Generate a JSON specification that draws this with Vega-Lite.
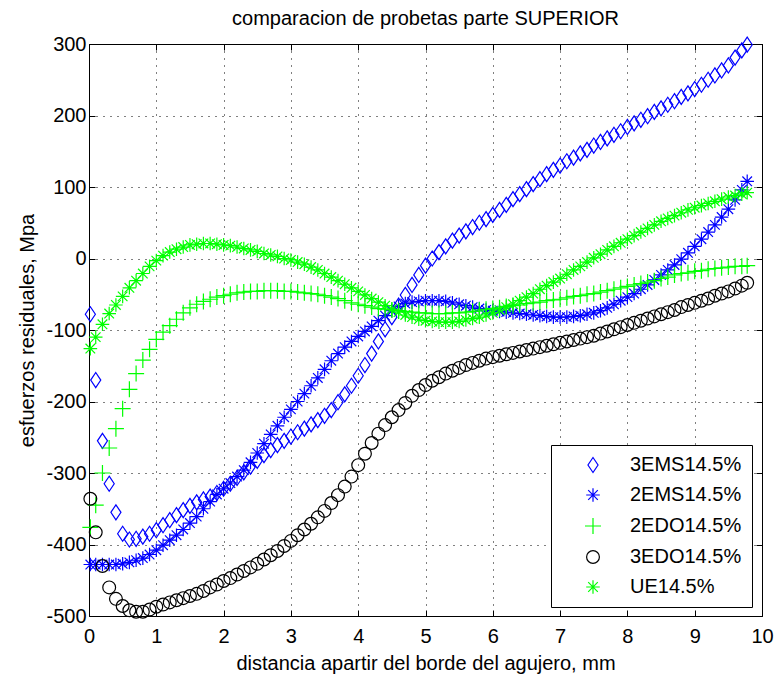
{
"$schema": "https://vega.github.io/schema/vega-lite/v6.json",
"width": 673, "height": 572,
"autosize": {"type": "none"},
"padding": {"left": 89, "top": 44, "right": 15, "bottom": 66},
"background": "white",
"title": {"text": "comparacion de probetas parte SUPERIOR", "fontSize": 20, "font": "Liberation Sans", "fontWeight": "normal", "color": "black", "offset": 5},
"config": {"view": {"stroke": "black", "strokeWidth": 1}, "font": "Liberation Sans"},
"datasets": {
"s1": [{"x":0.02,"y":-78},{"x":0.1,"y":-170},{"x":0.2,"y":-255},{"x":0.3,"y":-315},{"x":0.4,"y":-355},{"x":0.5,"y":-385},{"x":0.6,"y":-393},{"x":0.7,"y":-392},{"x":0.8,"y":-389},{"x":0.9,"y":-385},
{"x":1.0,"y":-380},{"x":1.1,"y":-373},{"x":1.2,"y":-366},{"x":1.3,"y":-359},{"x":1.4,"y":-352},{"x":1.5,"y":-346},{"x":1.6,"y":-341},{"x":1.7,"y":-337},{"x":1.8,"y":-333},{"x":1.9,"y":-328},
{"x":2.0,"y":-322},{"x":2.1,"y":-315},{"x":2.2,"y":-307},{"x":2.3,"y":-299},{"x":2.4,"y":-291},{"x":2.5,"y":-283},{"x":2.6,"y":-275},{"x":2.7,"y":-268},{"x":2.8,"y":-261},{"x":2.9,"y":-255},
{"x":3.0,"y":-249},{"x":3.1,"y":-243},{"x":3.2,"y":-238},{"x":3.3,"y":-232},{"x":3.4,"y":-226},{"x":3.5,"y":-220},{"x":3.6,"y":-212},{"x":3.7,"y":-201},{"x":3.8,"y":-190},{"x":3.9,"y":-178},
{"x":4.0,"y":-164},{"x":4.1,"y":-149},{"x":4.2,"y":-133},{"x":4.3,"y":-116},{"x":4.4,"y":-99},{"x":4.5,"y":-82},{"x":4.6,"y":-66},{"x":4.7,"y":-51},{"x":4.8,"y":-37},{"x":4.9,"y":-23},
{"x":5.0,"y":-10},{"x":5.1,"y":0},{"x":5.2,"y":9},{"x":5.3,"y":17},{"x":5.4,"y":25},{"x":5.5,"y":32},{"x":5.6,"y":38},{"x":5.7,"y":44},{"x":5.8,"y":50},{"x":5.9,"y":55},
{"x":6.0,"y":61},{"x":6.1,"y":68},{"x":6.2,"y":75},{"x":6.3,"y":83},{"x":6.4,"y":90},{"x":6.5,"y":97},{"x":6.6,"y":104},{"x":6.7,"y":111},{"x":6.8,"y":118},{"x":6.9,"y":124},
{"x":7.0,"y":130},{"x":7.1,"y":136},{"x":7.2,"y":141},{"x":7.3,"y":147},{"x":7.4,"y":152},{"x":7.5,"y":158},{"x":7.6,"y":163},{"x":7.7,"y":168},{"x":7.8,"y":173},{"x":7.9,"y":178},
{"x":8.0,"y":184},{"x":8.1,"y":189},{"x":8.2,"y":194},{"x":8.3,"y":199},{"x":8.4,"y":205},{"x":8.5,"y":210},{"x":8.6,"y":215},{"x":8.7,"y":220},{"x":8.8,"y":226},{"x":8.9,"y":231},
{"x":9.0,"y":237},{"x":9.1,"y":243},{"x":9.2,"y":250},{"x":9.3,"y":256},{"x":9.4,"y":263},{"x":9.5,"y":270},{"x":9.6,"y":281},{"x":9.7,"y":291},{"x":9.78,"y":299}],
"s2": [{"x":0.02,"y":-428},{"x":0.1,"y":-428},{"x":0.2,"y":-428},{"x":0.3,"y":-428},{"x":0.4,"y":-428},{"x":0.5,"y":-427},{"x":0.6,"y":-425},{"x":0.7,"y":-422},{"x":0.8,"y":-419},{"x":0.9,"y":-414},
{"x":1.0,"y":-408},{"x":1.1,"y":-401},{"x":1.2,"y":-394},{"x":1.3,"y":-387},{"x":1.4,"y":-379},{"x":1.5,"y":-370},{"x":1.6,"y":-361},{"x":1.7,"y":-350},{"x":1.8,"y":-340},{"x":1.9,"y":-330},
{"x":2.0,"y":-322},{"x":2.1,"y":-314},{"x":2.2,"y":-305},{"x":2.3,"y":-296},{"x":2.4,"y":-285},{"x":2.5,"y":-272},{"x":2.6,"y":-259},{"x":2.7,"y":-246},{"x":2.8,"y":-234},{"x":2.9,"y":-222},
{"x":3.0,"y":-211},{"x":3.1,"y":-200},{"x":3.2,"y":-189},{"x":3.3,"y":-178},{"x":3.4,"y":-167},{"x":3.5,"y":-155},{"x":3.6,"y":-143},{"x":3.7,"y":-133},{"x":3.8,"y":-124},{"x":3.9,"y":-116},
{"x":4.0,"y":-109},{"x":4.1,"y":-102},{"x":4.2,"y":-95},{"x":4.3,"y":-87},{"x":4.4,"y":-80},{"x":4.5,"y":-73},{"x":4.6,"y":-67},{"x":4.7,"y":-63},{"x":4.8,"y":-61},{"x":4.9,"y":-60},
{"x":5.0,"y":-59},{"x":5.1,"y":-59},{"x":5.2,"y":-59},{"x":5.3,"y":-60},{"x":5.4,"y":-62},{"x":5.5,"y":-64},{"x":5.6,"y":-66},{"x":5.7,"y":-68},{"x":5.8,"y":-70},{"x":5.9,"y":-72},
{"x":6.0,"y":-73},{"x":6.1,"y":-74},{"x":6.2,"y":-75},{"x":6.3,"y":-76},{"x":6.4,"y":-77},{"x":6.5,"y":-78},{"x":6.6,"y":-79},{"x":6.7,"y":-80},{"x":6.8,"y":-81},{"x":6.9,"y":-82},
{"x":7.0,"y":-82},{"x":7.1,"y":-82},{"x":7.2,"y":-81},{"x":7.3,"y":-80},{"x":7.4,"y":-78},{"x":7.5,"y":-76},{"x":7.6,"y":-73},{"x":7.7,"y":-69},{"x":7.8,"y":-64},{"x":7.9,"y":-59},
{"x":8.0,"y":-54},{"x":8.1,"y":-49},{"x":8.2,"y":-43},{"x":8.3,"y":-37},{"x":8.4,"y":-30},{"x":8.5,"y":-23},{"x":8.6,"y":-16},{"x":8.7,"y":-9},{"x":8.8,"y":-1},{"x":8.9,"y":8},
{"x":9.0,"y":17},{"x":9.1,"y":27},{"x":9.2,"y":37},{"x":9.3,"y":47},{"x":9.4,"y":58},{"x":9.5,"y":69},{"x":9.6,"y":82},{"x":9.7,"y":96},{"x":9.78,"y":108}],
"s3": [{"x":0.02,"y":-376},{"x":0.1,"y":-345},{"x":0.2,"y":-300},{"x":0.3,"y":-265},{"x":0.4,"y":-238},{"x":0.5,"y":-210},{"x":0.6,"y":-183},{"x":0.7,"y":-161},{"x":0.8,"y":-142},{"x":0.9,"y":-127},
{"x":1.0,"y":-113},{"x":1.1,"y":-103},{"x":1.2,"y":-94},{"x":1.3,"y":-85},{"x":1.4,"y":-76},{"x":1.5,"y":-69},{"x":1.6,"y":-64},{"x":1.7,"y":-60},{"x":1.8,"y":-57},{"x":1.9,"y":-54},
{"x":2.0,"y":-52},{"x":2.1,"y":-50},{"x":2.2,"y":-48},{"x":2.3,"y":-47},{"x":2.4,"y":-46},{"x":2.5,"y":-46},{"x":2.6,"y":-45},{"x":2.7,"y":-45},{"x":2.8,"y":-45},{"x":2.9,"y":-46},
{"x":3.0,"y":-46},{"x":3.1,"y":-47},{"x":3.2,"y":-48},{"x":3.3,"y":-49},{"x":3.4,"y":-50},{"x":3.5,"y":-52},{"x":3.6,"y":-54},{"x":3.7,"y":-56},{"x":3.8,"y":-59},{"x":3.9,"y":-62},
{"x":4.0,"y":-64},{"x":4.1,"y":-66},{"x":4.2,"y":-68},{"x":4.3,"y":-70},{"x":4.4,"y":-71},{"x":4.5,"y":-72},{"x":4.6,"y":-73},{"x":4.7,"y":-74},{"x":4.8,"y":-75},{"x":4.9,"y":-76},
{"x":5.0,"y":-76},{"x":5.1,"y":-77},{"x":5.2,"y":-77},{"x":5.3,"y":-77},{"x":5.4,"y":-76},{"x":5.5,"y":-76},{"x":5.6,"y":-75},{"x":5.7,"y":-74},{"x":5.8,"y":-72},{"x":5.9,"y":-71},
{"x":6.0,"y":-70},{"x":6.1,"y":-69},{"x":6.2,"y":-67},{"x":6.3,"y":-66},{"x":6.4,"y":-65},{"x":6.5,"y":-63},{"x":6.6,"y":-62},{"x":6.7,"y":-61},{"x":6.8,"y":-59},{"x":6.9,"y":-58},
{"x":7.0,"y":-57},{"x":7.1,"y":-55},{"x":7.2,"y":-53},{"x":7.3,"y":-52},{"x":7.4,"y":-50},{"x":7.5,"y":-49},{"x":7.6,"y":-47},{"x":7.7,"y":-45},{"x":7.8,"y":-43},{"x":7.9,"y":-41},
{"x":8.0,"y":-39},{"x":8.1,"y":-37},{"x":8.2,"y":-35},{"x":8.3,"y":-33},{"x":8.4,"y":-31},{"x":8.5,"y":-28},{"x":8.6,"y":-26},{"x":8.7,"y":-23},{"x":8.8,"y":-21},{"x":8.9,"y":-20},
{"x":9.0,"y":-18},{"x":9.1,"y":-17},{"x":9.2,"y":-15},{"x":9.3,"y":-14},{"x":9.4,"y":-13},{"x":9.5,"y":-12},{"x":9.6,"y":-11},{"x":9.7,"y":-11},{"x":9.78,"y":-10}],
"s4": [{"x":0.02,"y":-336},{"x":0.1,"y":-383},{"x":0.2,"y":-430},{"x":0.3,"y":-460},{"x":0.4,"y":-476},{"x":0.5,"y":-486},{"x":0.6,"y":-492},{"x":0.7,"y":-494},{"x":0.8,"y":-494},{"x":0.9,"y":-491},
{"x":1.0,"y":-487},{"x":1.1,"y":-484},{"x":1.2,"y":-481},{"x":1.3,"y":-478},{"x":1.4,"y":-475},{"x":1.5,"y":-472},{"x":1.6,"y":-469},{"x":1.7,"y":-465},{"x":1.8,"y":-460},{"x":1.9,"y":-456},
{"x":2.0,"y":-451},{"x":2.1,"y":-447},{"x":2.2,"y":-442},{"x":2.3,"y":-437},{"x":2.4,"y":-432},{"x":2.5,"y":-427},{"x":2.6,"y":-421},{"x":2.7,"y":-415},{"x":2.8,"y":-409},{"x":2.9,"y":-402},
{"x":3.0,"y":-395},{"x":3.1,"y":-387},{"x":3.2,"y":-379},{"x":3.3,"y":-371},{"x":3.4,"y":-362},{"x":3.5,"y":-353},{"x":3.6,"y":-342},{"x":3.7,"y":-331},{"x":3.8,"y":-319},{"x":3.9,"y":-305},
{"x":4.0,"y":-289},{"x":4.1,"y":-273},{"x":4.2,"y":-258},{"x":4.3,"y":-245},{"x":4.4,"y":-233},{"x":4.5,"y":-222},{"x":4.6,"y":-212},{"x":4.7,"y":-202},{"x":4.8,"y":-192},{"x":4.9,"y":-184},
{"x":5.0,"y":-177},{"x":5.1,"y":-171},{"x":5.2,"y":-166},{"x":5.3,"y":-161},{"x":5.4,"y":-157},{"x":5.5,"y":-153},{"x":5.6,"y":-149},{"x":5.7,"y":-146},{"x":5.8,"y":-143},{"x":5.9,"y":-140},
{"x":6.0,"y":-138},{"x":6.1,"y":-136},{"x":6.2,"y":-134},{"x":6.3,"y":-132},{"x":6.4,"y":-130},{"x":6.5,"y":-128},{"x":6.6,"y":-126},{"x":6.7,"y":-124},{"x":6.8,"y":-122},{"x":6.9,"y":-120},
{"x":7.0,"y":-118},{"x":7.1,"y":-116},{"x":7.2,"y":-114},{"x":7.3,"y":-112},{"x":7.4,"y":-110},{"x":7.5,"y":-108},{"x":7.6,"y":-105},{"x":7.7,"y":-102},{"x":7.8,"y":-99},{"x":7.9,"y":-96},
{"x":8.0,"y":-93},{"x":8.1,"y":-90},{"x":8.2,"y":-87},{"x":8.3,"y":-84},{"x":8.4,"y":-81},{"x":8.5,"y":-78},{"x":8.6,"y":-75},{"x":8.7,"y":-72},{"x":8.8,"y":-68},{"x":8.9,"y":-65},
{"x":9.0,"y":-62},{"x":9.1,"y":-59},{"x":9.2,"y":-56},{"x":9.3,"y":-52},{"x":9.4,"y":-49},{"x":9.5,"y":-46},{"x":9.6,"y":-42},{"x":9.7,"y":-38},{"x":9.78,"y":-34}],
"s5": [{"x":0.02,"y":-126},{"x":0.1,"y":-110},{"x":0.2,"y":-92},{"x":0.3,"y":-77},{"x":0.4,"y":-65},{"x":0.5,"y":-53},{"x":0.6,"y":-41},{"x":0.7,"y":-31},{"x":0.8,"y":-21},{"x":0.9,"y":-11},
{"x":1.0,"y":-3},{"x":1.1,"y":4},{"x":1.2,"y":9},{"x":1.3,"y":13},{"x":1.4,"y":16},{"x":1.5,"y":19},{"x":1.6,"y":20},{"x":1.7,"y":21},{"x":1.8,"y":21},{"x":1.9,"y":20},
{"x":2.0,"y":19},{"x":2.1,"y":18},{"x":2.2,"y":16},{"x":2.3,"y":14},{"x":2.4,"y":12},{"x":2.5,"y":10},{"x":2.6,"y":7},{"x":2.7,"y":5},{"x":2.8,"y":3},{"x":2.9,"y":0},
{"x":3.0,"y":-2},{"x":3.1,"y":-5},{"x":3.2,"y":-8},{"x":3.3,"y":-12},{"x":3.4,"y":-16},{"x":3.5,"y":-21},{"x":3.6,"y":-26},{"x":3.7,"y":-31},{"x":3.8,"y":-36},{"x":3.9,"y":-41},
{"x":4.0,"y":-46},{"x":4.1,"y":-51},{"x":4.2,"y":-56},{"x":4.3,"y":-61},{"x":4.4,"y":-66},{"x":4.5,"y":-71},{"x":4.6,"y":-75},{"x":4.7,"y":-79},{"x":4.8,"y":-82},{"x":4.9,"y":-85},
{"x":5.0,"y":-87},{"x":5.1,"y":-88},{"x":5.2,"y":-89},{"x":5.3,"y":-89},{"x":5.4,"y":-89},{"x":5.5,"y":-88},{"x":5.6,"y":-86},{"x":5.7,"y":-84},{"x":5.8,"y":-82},{"x":5.9,"y":-79},
{"x":6.0,"y":-76},{"x":6.1,"y":-72},{"x":6.2,"y":-68},{"x":6.3,"y":-64},{"x":6.4,"y":-59},{"x":6.5,"y":-54},{"x":6.6,"y":-49},{"x":6.7,"y":-43},{"x":6.8,"y":-38},{"x":6.9,"y":-33},
{"x":7.0,"y":-28},{"x":7.1,"y":-22},{"x":7.2,"y":-16},{"x":7.3,"y":-11},{"x":7.4,"y":-5},{"x":7.5,"y":1},{"x":7.6,"y":6},{"x":7.7,"y":12},{"x":7.8,"y":17},{"x":7.9,"y":22},
{"x":8.0,"y":27},{"x":8.1,"y":32},{"x":8.2,"y":37},{"x":8.3,"y":42},{"x":8.4,"y":47},{"x":8.5,"y":52},{"x":8.6,"y":56},{"x":8.7,"y":60},{"x":8.8,"y":64},{"x":8.9,"y":68},
{"x":9.0,"y":71},{"x":9.1,"y":74},{"x":9.2,"y":77},{"x":9.3,"y":80},{"x":9.4,"y":83},{"x":9.5,"y":86},{"x":9.6,"y":88},{"x":9.7,"y":90},{"x":9.78,"y":92}]
},
"layer": [
{"layer": [
{"data": {"name": "s1"}, "mark": {"type": "point", "filled": false, "strokeWidth": 1.2, "size": 256, "opacity": 1, "clip": false},
 "encoding": {
  "x": {"field": "x", "type": "quantitative", "scale": {"domain": [0, 10], "nice": false, "zero": false},
   "axis": {"orient": "bottom", "values": [0,1,2,3,4,5,6,7,8,9,10], "format": "d", "grid": true, "gridColor": "black", "gridDash": [1, 6], "gridOpacity": 1, "gridWidth": 1, "domain": false, "ticks": true, "tickSize": -6, "tickColor": "black", "tickWidth": 1, "labelFont": "Liberation Sans", "labelFontSize": 20, "labelColor": "black", "labelPadding": 16, "labelFlush": false, "labelOverlap": false, "title": "distancia apartir del borde del agujero, mm", "titleFont": "Liberation Sans", "titleFontSize": 20, "titleFontWeight": "normal", "titleColor": "black", "titlePadding": 7}},
  "y": {"field": "y", "type": "quantitative", "scale": {"domain": [-500, 300], "nice": false, "zero": false},
   "axis": {"orient": "left", "values": [-500,-400,-300,-200,-100,0,100,200,300], "labelExpr": "datum.value < 0 ? '-' + abs(datum.value) : '' + datum.value", "grid": true, "gridColor": "black", "gridDash": [1, 6], "gridOpacity": 1, "gridWidth": 1, "domain": false, "ticks": true, "tickSize": -6, "tickColor": "black", "tickWidth": 1, "labelFont": "Liberation Sans", "labelFontSize": 20, "labelColor": "black", "labelPadding": 9, "labelFlush": false, "labelOverlap": false, "title": "esfuerzos residuales, Mpa", "titleFont": "Liberation Sans", "titleFontSize": 20, "titleFontWeight": "normal", "titleColor": "black", "titlePadding": 8}},
  "color": {"datum": "3EMS14.5%", "type": "nominal", "scale": {"domain": ["3EMS14.5%", "2EMS14.5%", "2EDO14.5%", "3EDO14.5%", "UE14.5%"], "range": ["#0000ff", "#0000ff", "#00ff00", "#000000", "#00ff00"]},
   "legend": {"title": null, "orient": "none", "legendX": 462, "legendY": 401, "fillColor": "white", "strokeColor": "black", "padding": 10, "labelFont": "Liberation Sans", "labelFontSize": 20, "labelColor": "black", "symbolSize": 256, "symbolStrokeWidth": 1.2, "symbolOffset": 22, "labelOffset": 27, "rowPadding": 10, "cornerRadius": 0}},
  "shape": {"datum": "3EMS14.5%", "type": "nominal", "scale": {"domain": ["3EMS14.5%", "2EMS14.5%", "2EDO14.5%", "3EDO14.5%", "UE14.5%"], "range": ["M0,-0.94L0.63,0L0,0.94L-0.63,0Z", "M-0.85,0L0.85,0M0,-0.85L0,0.85M-0.6,-0.6L0.6,0.6M-0.6,0.6L0.6,-0.6", "M-1,0L1,0M0,-1L0,1", "M0.8,0A0.8,0.8,0,1,1,-0.8,0A0.8,0.8,0,1,1,0.8,0Z", "M-0.85,0L0.85,0M0,-0.85L0,0.85M-0.6,-0.6L0.6,0.6M-0.6,0.6L0.6,-0.6"]}}
 }},
{"data": {"name": "s2"}, "mark": {"type": "point", "filled": false, "strokeWidth": 1.2, "size": 256, "opacity": 1, "clip": false},
 "encoding": {"x": {"field": "x", "type": "quantitative"}, "y": {"field": "y", "type": "quantitative"}, "color": {"datum": "2EMS14.5%", "type": "nominal"}, "shape": {"datum": "2EMS14.5%", "type": "nominal"}}},
{"data": {"name": "s3"}, "mark": {"type": "point", "filled": false, "strokeWidth": 1.2, "size": 256, "opacity": 1, "clip": false},
 "encoding": {"x": {"field": "x", "type": "quantitative"}, "y": {"field": "y", "type": "quantitative"}, "color": {"datum": "2EDO14.5%", "type": "nominal"}, "shape": {"datum": "2EDO14.5%", "type": "nominal"}}},
{"data": {"name": "s4"}, "mark": {"type": "point", "filled": false, "strokeWidth": 1.2, "size": 256, "opacity": 1, "clip": false},
 "encoding": {"x": {"field": "x", "type": "quantitative"}, "y": {"field": "y", "type": "quantitative"}, "color": {"datum": "3EDO14.5%", "type": "nominal"}, "shape": {"datum": "3EDO14.5%", "type": "nominal"}}},
{"data": {"name": "s5"}, "mark": {"type": "point", "filled": false, "strokeWidth": 1.2, "size": 256, "opacity": 1, "clip": false},
 "encoding": {"x": {"field": "x", "type": "quantitative"}, "y": {"field": "y", "type": "quantitative"}, "color": {"datum": "UE14.5%", "type": "nominal"}, "shape": {"datum": "UE14.5%", "type": "nominal"}}}
]},
{"data": {"name": "s1"}, "mark": {"type": "point", "opacity": 0},
 "encoding": {
  "x": {"field": "x", "type": "quantitative", "axis": {"orient": "top", "values": [0,1,2,3,4,5,6,7,8,9,10], "labels": false, "grid": false, "domain": false, "ticks": true, "tickSize": -6, "tickColor": "black", "tickWidth": 1, "title": null}},
  "y": {"field": "y", "type": "quantitative", "axis": {"orient": "right", "values": [-500,-400,-300,-200,-100,0,100,200,300], "labels": false, "grid": false, "domain": false, "ticks": true, "tickSize": -6, "tickColor": "black", "tickWidth": 1, "title": null}}
 }}
],
"resolve": {"axis": {"x": "independent", "y": "independent"}}
}
